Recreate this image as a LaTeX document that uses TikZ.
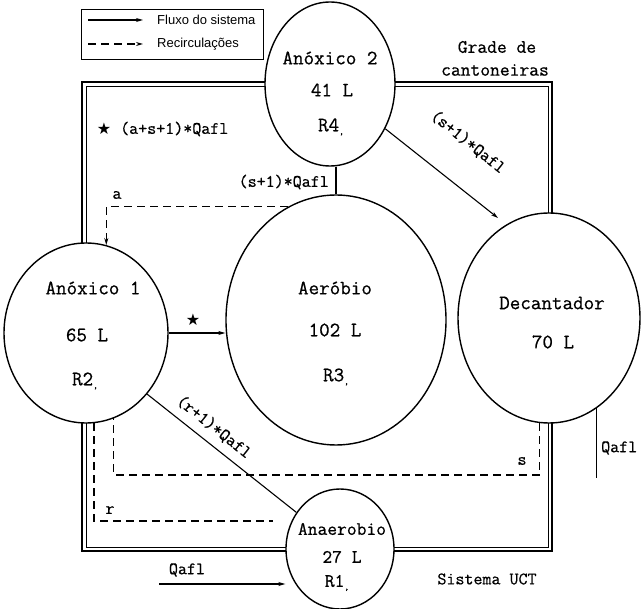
\documentclass[tikz,border=0pt]{standalone}
\usepackage{fontspec}
\setmainfont[FakeBold=0.6]{Latin Modern Mono}
\newfontfamily\legendfont{Liberation Sans}
\newfontfamily\symfont{DejaVu Sans}
\usetikzlibrary{shapes.geometric,arrows.meta,calc}
% reactor tag with its small trailing mark
\newcommand\rtag[1]{R#1{\fontsize{9}{9}\selectfont\raisebox{-3pt}{,}}}
\begin{document}
\begin{tikzpicture}[x=1pt,y=-1pt,
  tank/.style={ellipse,draw,line width=1.4pt,fill=white,inner sep=0pt},
  tanktext/.style={font=\fontsize{20.5}{20.5}\selectfont,inner sep=0pt},
  smalltanktext/.style={font=\fontsize{19}{19}\selectfont,inner sep=0pt},
  lbl/.style={font=\fontsize{17.5}{17.5}\selectfont,inner sep=0pt},
  biglbl/.style={font=\fontsize{19}{19}\selectfont,inner sep=0pt},
  legendtext/.style={font=\legendfont\fontsize{13}{13}\selectfont,inner sep=0pt,anchor=west},
  flow/.style={line width=1.1pt},
  recirc/.style={line width=1.3pt,dash pattern=on 8pt off 5pt},
  tip/.style={-{Stealth[length=7pt,width=4pt]}},
  framebar/.style={line width=1.7pt},
  framebarin/.style={line width=0.8pt},
]
\useasboundingbox (0,0) rectangle (643,609);

% legend
\node[draw,line width=0.7pt,minimum width=182pt,minimum height=50pt,inner sep=0pt] (legend) at (172,34) {};
\coordinate (l1a) at (88,20);  \coordinate (l1b) at (143,20);
\coordinate (l2a) at (88,44);  \coordinate (l2b) at (143,44);
\draw[flow,tip] (l1a) -- (l1b);
\draw[recirc,tip] (l2a) -- (l2b);
\node[legendtext] (leg1) at (157,20) {Fluxo do sistema};
\node[legendtext] (leg2) at (157,44) {Recirculações};

% angle-iron frame (double bar)
\draw[framebar] (82,82) rectangle (552,551);
\draw[framebarin] (86,86) rectangle (548,547);

% tanks
\node[tank,minimum width=130pt,minimum height=164pt] (an2) at (330,84) {};
\node[tank,minimum width=164pt,minimum height=180pt] (an1) at (86,333) {};
\node[tank,minimum width=220pt,minimum height=250pt] (aer) at (336,320) {};
\node[tank,minimum width=182pt,minimum height=210pt] (dec) at (549,318) {};
\node[tank,minimum width=108pt,minimum height=120pt] (ana) at (340,549) {};

% tank texts
\node[tanktext] (an2a) at (330,58) {Anóxico 2};
\node[tanktext] (an2b) at (332,90) {41 L};
\node[tanktext] (an2c) at (331,127) {\rtag{4}};
\node[tanktext] (an1a) at (93,288) {Anóxico 1};
\node[tanktext] (an1b) at (87,335) {65 L};
\node[tanktext] (an1c) at (85,381) {\rtag{2}};
\node[tanktext] (aera) at (335,288) {Aeróbio};
\node[tanktext] (aerb) at (335,330) {102 L};
\node[tanktext] (aerc) at (336,377) {\rtag{3}};
\node[tanktext] (deca) at (552,303) {Decantador};
\node[tanktext] (decb) at (553,342) {70 L};
\node[smalltanktext] (anaa) at (342,529) {Anaerobio};
\node[smalltanktext] (anab) at (342,557) {27 L};
\node[smalltanktext] (anac) at (337,583) {\rtag{1}};

% main flow
\coordinate (qin) at (159,584);
\draw[flow,tip] (qin) -- (qin -| ana.west);
\draw[flow] (ana.140.7) -- (an1.-45);
\draw[flow,tip] (an1.east) -- (an1.east -| aer.west);
\draw[flow] (aer.north) -- (aer.north |- an2.south);
\coordinate (dectip) at (498,218);
\draw[flow,tip] (an2.-39) -- (dectip);
\coordinate (qout) at (598,478);
\draw[flow] (dec.-62) -- (dec.-62 |- qout);

% recirculations
\draw[recirc,tip] (aer.113.6) -| (an1.77);
\draw[recirc] (dec.-95) -- (dec.-95 |- 0,475) -| (an1.-72);
\draw[recirc,shorten >=18pt] (an1.-85.5) |- (ana.150.6);

% labels
\node[font=\symfont\fontsize{16}{16}\selectfont,inner sep=0pt] (star1) at (104,129) {★};
\node[lbl,anchor=west] (qtot) at (120,129) {(a+s+1)*Qafl};
\node[font=\symfont\fontsize{16}{16}\selectfont,inner sep=0pt] (star2) at (193,320) {★};
\node[lbl,anchor=east] (qs1) at (329,182) {(s+1)*Qafl};
\node[lbl,rotate=-38.5] (qs2) at (468,142) {(s+1)*Qafl};
\node[lbl,rotate=-38.5] (qr) at (214,427) {(r+1)*Qafl};
\node[lbl] (la) at (117,195) {a};
\node[lbl] (ls) at (522,461) {s};
\node[lbl] (lr) at (110,510) {r};
\node[lbl] (qinl) at (187,570) {Qafl};
\node[lbl,anchor=west] (qoutl) at (601,448) {Qafl};
\node[biglbl] (grade1) at (497,47) {Grade de};
\node[biglbl] (grade2) at (495,70) {cantoneiras};
\node[lbl] (uct) at (487,579) {Sistema UCT};
\end{tikzpicture}
\end{document}
